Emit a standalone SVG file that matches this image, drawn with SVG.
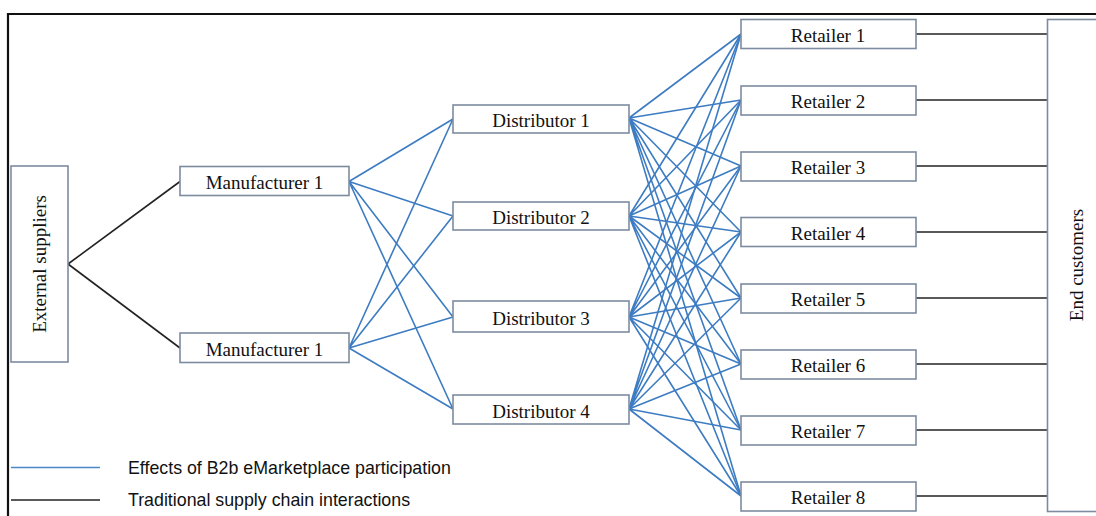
<svg xmlns="http://www.w3.org/2000/svg" width="1096" height="516" viewBox="0 0 1096 516">
<style>
.box{fill:#fff;stroke:#7d8ba0;stroke-width:1.6}
.lbl{font-family:"Liberation Serif","Times New Roman",serif;font-size:19px;fill:#111;text-anchor:middle}
.blue{stroke:#3d7cc2;stroke-width:1.6;fill:none}
.black{stroke:#222;stroke-width:1.6;fill:none}
.leg{font-family:"Liberation Sans",Arial,sans-serif;font-size:17.8px;fill:#111}
</style>
<rect width="1096" height="516" fill="#fff"/>
<path d="M8 516 V14 H1096" fill="none" stroke="#111" stroke-width="2.2"/>
<g id="connectors">
<g class="black">
<path d="M68 264 L180 181.5"/>
<path d="M68 264 L180 348"/>
<path d="M916 34 H1047"/>
<path d="M916 100 H1047"/>
<path d="M916 166 H1047"/>
<path d="M916 232 H1047"/>
<path d="M916 298 H1047"/>
<path d="M916 364 H1047"/>
<path d="M916 430 H1047"/>
<path d="M916 496 H1047"/>
</g>
<g class="blue">
<path d="M349 181.5 L453 119 M349 181.5 L453 216 M349 181.5 L453 317 M349 181.5 L453 409"/>
<path d="M349 348 L453 119 M349 348 L453 216 M349 348 L453 317 M349 348 L453 409"/>
<path d="M629 118 L741 34 M629 118 L741 100 M629 118 L741 166 M629 118 L741 232 M629 118 L741 298 M629 118 L741 364 M629 118 L741 430 M629 118 L741 496"/>
<path d="M629 216 L741 34 M629 216 L741 100 M629 216 L741 166 M629 216 L741 232 M629 216 L741 298 M629 216 L741 364 M629 216 L741 430 M629 216 L741 496"/>
<path d="M629 317 L741 34 M629 317 L741 100 M629 317 L741 166 M629 317 L741 232 M629 317 L741 298 M629 317 L741 364 M629 317 L741 430 M629 317 L741 496"/>
<path d="M629 409 L741 34 M629 409 L741 100 M629 409 L741 166 M629 409 L741 232 M629 409 L741 298 M629 409 L741 364 M629 409 L741 430 M629 409 L741 496"/>
</g>
</g>
<g id="external-suppliers">
<rect class="box" x="11" y="166" width="57" height="196"/>
<text class="lbl" transform="translate(46,264) rotate(-90)">External suppliers</text>
</g>
<g id="manufacturer-a">
<rect class="box" x="180" y="166.5" width="169" height="29"/>
<text class="lbl" x="264.5" y="189">Manufacturer 1</text>
</g>
<g id="manufacturer-b">
<rect class="box" x="180" y="333" width="169" height="29.5"/>
<text class="lbl" x="264.5" y="356">Manufacturer 1</text>
</g>
<g id="distributor-1">
<rect class="box" x="453" y="105" width="176" height="28"/>
<text class="lbl" x="541" y="127">Distributor 1</text>
</g>
<g id="distributor-2">
<rect class="box" x="453" y="202" width="176" height="28"/>
<text class="lbl" x="541" y="224">Distributor 2</text>
</g>
<g id="distributor-3">
<rect class="box" x="453" y="301" width="176" height="31"/>
<text class="lbl" x="541" y="324.5">Distributor 3</text>
</g>
<g id="distributor-4">
<rect class="box" x="453" y="395" width="176" height="29"/>
<text class="lbl" x="541" y="417.5">Distributor 4</text>
</g>
<g id="retailer-1"><rect class="box" x="741" y="19.5" width="175" height="29"/><text class="lbl" x="828" y="42">Retailer 1</text></g>
<g id="retailer-2"><rect class="box" x="741" y="86" width="175" height="29"/><text class="lbl" x="828" y="108">Retailer 2</text></g>
<g id="retailer-3"><rect class="box" x="741" y="152" width="175" height="29"/><text class="lbl" x="828" y="174">Retailer 3</text></g>
<g id="retailer-4"><rect class="box" x="741" y="217.5" width="175" height="29"/><text class="lbl" x="828" y="240">Retailer 4</text></g>
<g id="retailer-5"><rect class="box" x="741" y="284" width="175" height="29"/><text class="lbl" x="828" y="306">Retailer 5</text></g>
<g id="retailer-6"><rect class="box" x="741" y="350" width="175" height="29"/><text class="lbl" x="828" y="372">Retailer 6</text></g>
<g id="retailer-7"><rect class="box" x="741" y="416" width="175" height="29"/><text class="lbl" x="828" y="438">Retailer 7</text></g>
<g id="retailer-8"><rect class="box" x="741" y="482" width="175" height="29"/><text class="lbl" x="828" y="504">Retailer 8</text></g>
<g id="end-customers">
<rect class="box" x="1047.5" y="19.5" width="60" height="492"/>
<text class="lbl" transform="translate(1083,265) rotate(-90)">End customers</text>
</g>
<g id="legend">
<line x1="11" y1="467.5" x2="100" y2="467.5" stroke="#4a88c8" stroke-width="1.5"/>
<line x1="11" y1="500" x2="100" y2="500" stroke="#222" stroke-width="1.5"/>
<text class="leg" x="128" y="474">Effects of B2b eMarketplace participation</text>
<text class="leg" x="128" y="506">Traditional supply chain interactions</text>
</g>
</svg>
